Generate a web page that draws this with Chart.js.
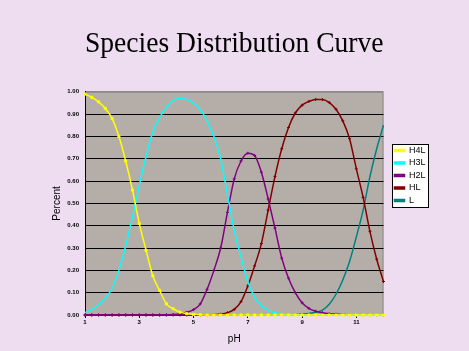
<!DOCTYPE html>
<html>
<head>
<meta charset="utf-8">
<title>Species Distribution Curve</title>
<script src="https://cdn.jsdelivr.net/npm/chart.js@4.4.0/dist/chart.umd.min.js"></script>
<style>
  html, body { margin: 0; padding: 0; background: #eedcf0; }
  canvas { display: block; }
</style>
</head>
<body>
<canvas id="speciesChart" width="469" height="351"></canvas>
<script>
// pH values (x)
const phValues = [1, 1.25, 1.5, 1.75, 2, 2.25, 2.5, 2.75, 3, 3.25, 3.5, 3.75, 4, 4.25, 4.5, 4.75,
  5, 5.25, 5.5, 5.75, 6, 6.25, 6.5, 6.75, 7, 7.25, 7.5, 7.75, 8, 8.25, 8.5, 8.75,
  9, 9.25, 9.5, 9.75, 10, 10.25, 10.5, 10.75, 11, 11.25, 11.5, 11.75, 12];

// fraction of each species
const h4l = [0.99, 0.975, 0.955, 0.925, 0.88, 0.80, 0.69, 0.56, 0.41, 0.29, 0.175, 0.11, 0.05, 0.028, 0.013, 0.006,
  0.003, 0.001, 0, 0, 0, 0, 0, 0, 0, 0, 0, 0, 0, 0, 0, 0,
  0, 0, 0, 0, 0, 0, 0, 0, 0, 0, 0, 0, 0];
const h3l = [0.01, 0.025, 0.045, 0.075, 0.12, 0.20, 0.31, 0.44, 0.58, 0.71, 0.82, 0.885, 0.93, 0.96, 0.97, 0.965,
  0.95, 0.92, 0.87, 0.80, 0.70, 0.54, 0.38, 0.26, 0.15, 0.08, 0.042, 0.022, 0.01, 0.006, 0.003, 0.001,
  0, 0, 0, 0, 0, 0, 0, 0, 0, 0, 0, 0, 0];
const h2l = [0, 0, 0, 0, 0, 0, 0, 0, 0, 0, 0, 0, 0.001, 0.002, 0.005, 0.012,
  0.024, 0.05, 0.115, 0.20, 0.30, 0.46, 0.61, 0.69, 0.725, 0.715, 0.64, 0.52, 0.39, 0.255, 0.165, 0.10,
  0.055, 0.03, 0.017, 0.01, 0.006, 0.004, 0.002, 0.001, 0, 0, 0, 0, 0];
const hl = [0, 0, 0, 0, 0, 0, 0, 0, 0, 0, 0, 0, 0, 0, 0, 0,
  0, 0, 0, 0.002, 0.004, 0.01, 0.025, 0.06, 0.13, 0.22, 0.32, 0.47, 0.62, 0.745, 0.84, 0.905,
  0.94, 0.957, 0.966, 0.965, 0.952, 0.922, 0.87, 0.79, 0.655, 0.527, 0.375, 0.25, 0.15];
const lFree = [0, 0, 0, 0, 0, 0, 0, 0, 0, 0, 0, 0, 0, 0, 0, 0,
  0, 0, 0, 0, 0, 0, 0, 0, 0, 0, 0, 0, 0, 0, 0, 0.002,
  0.004, 0.007, 0.012, 0.022, 0.048, 0.093, 0.157, 0.24, 0.35, 0.47, 0.62, 0.745, 0.85];

const seriesNames = ['H4L', 'H3L', 'H2L', 'HL', 'L'];
const seriesValues = [h4l, h3l, h2l, hl, lFree];
const seriesColors = ['#ffff00', '#00ffff', '#800080', '#800000', '#008080'];
const seriesMarkers = ['rect', false, 'cross', 'cross', false];

const xTickValues = [1, 3, 5, 7, 9, 11];

// grey plot area, frame and the white legend box
const plotBackground = {
  id: 'plotBackground',
  afterLayout(chart) {
    // move the legend a little away from the plot
    chart.legend.left += 7.5;
    chart.legend.right += 7.5;
  },
  beforeDraw(chart) {
    const { ctx, chartArea: a } = chart;
    ctx.save();
    ctx.fillStyle = '#b5aea8';
    ctx.fillRect(a.left, a.top, a.right - a.left, a.bottom - a.top);
    ctx.strokeStyle = '#8a8a8a';
    ctx.lineWidth = 1;
    ctx.strokeRect(a.left + 0.5, a.top + 0.5, a.right - a.left - 1, a.bottom - a.top);

    const boxes = chart.legend.legendHitBoxes;
    if (boxes && boxes.length) {
      const first = boxes[0];
      const last = boxes[boxes.length - 1];
      const left = Math.round(first.left - 2) + 0.5;
      const top = Math.round(first.top - 2.5) + 0.5;
      const bottom = Math.round(last.top + last.height + 2) + 0.5;
      ctx.fillStyle = '#ffffff';
      ctx.fillRect(left, top, 36, bottom - top);
      ctx.strokeStyle = '#000000';
      ctx.strokeRect(left, top, 36, bottom - top);
    }
    ctx.restore();
  }
};

new Chart(document.getElementById('speciesChart').getContext('2d'), {
  type: 'line',
  data: {
    datasets: seriesNames.map((name, i) => ({
      label: name,
      data: phValues.map((p, j) => ({ x: p, y: seriesValues[i][j] })),
      borderColor: seriesColors[i],
      backgroundColor: seriesColors[i],
      borderWidth: 1.5,
      pointStyle: seriesMarkers[i],
      pointRadius: seriesMarkers[i] ? 1.5 : 0,
      pointBorderWidth: 1,
      cubicInterpolationMode: 'monotone',
      clip: 3
    }))
  },
  options: {
    responsive: false,
    devicePixelRatio: 1,
    animation: false,
    events: [],
    layout: { padding: { left: 0, right: 41, top: 0, bottom: 0 } },
    plugins: {
      title: {
        display: true,
        fullSize: false,
        text: 'Species Distribution Curve',
        color: '#000000',
        font: { family: "'Liberation Serif', 'Times New Roman', serif", size: 29, weight: 'normal' },
        padding: { top: 27, bottom: 30 }
      },
      legend: {
        position: 'right',
        labels: {
          color: '#000000',
          boxWidth: 10,
          boxHeight: 2,
          padding: 3.5,
          font: { family: "'Liberation Sans', Arial, sans-serif", size: 9 }
        }
      },
      tooltip: { enabled: false }
    },
    scales: {
      x: {
        type: 'linear',
        min: 1,
        max: 12,
        afterBuildTicks: scale => { scale.ticks = xTickValues.map(v => ({ value: v })); },
        afterFit: scale => { scale.height = 36; },
        grid: { drawOnChartArea: false, drawTicks: true, tickLength: 3, color: '#000000' },
        border: { color: '#000000' },
        ticks: {
          color: '#000000',
          padding: 1,
          maxRotation: 0,
          font: { family: "'Liberation Sans', Arial, sans-serif", size: 6, weight: 'bold' }
        },
        title: {
          display: true,
          text: 'pH',
          color: '#000000',
          font: { family: "'Liberation Sans', Arial, sans-serif", size: 10 },
          padding: { top: 0, bottom: 6 }
        }
      },
      y: {
        min: 0,
        max: 1,
        afterFit: scale => { scale.width = 85; },
        grid: {
          drawTicks: false,
          color: ctx => (ctx.tick && ctx.tick.value === 1 ? '#8a8a8a' : '#000000')
        },
        border: { color: '#000000' },
        ticks: {
          stepSize: 0.1,
          color: '#000000',
          padding: 6,
          font: { family: "'Liberation Sans', Arial, sans-serif", size: 6, weight: 'bold' },
          callback: v => v.toFixed(2)
        },
        title: {
          display: true,
          text: 'Percent',
          color: '#000000',
          font: { family: "'Liberation Sans', Arial, sans-serif", size: 10 },
          padding: { top: 51, bottom: 0 }
        }
      }
    }
  },
  plugins: [plotBackground]
});
</script>
</body>
</html>
